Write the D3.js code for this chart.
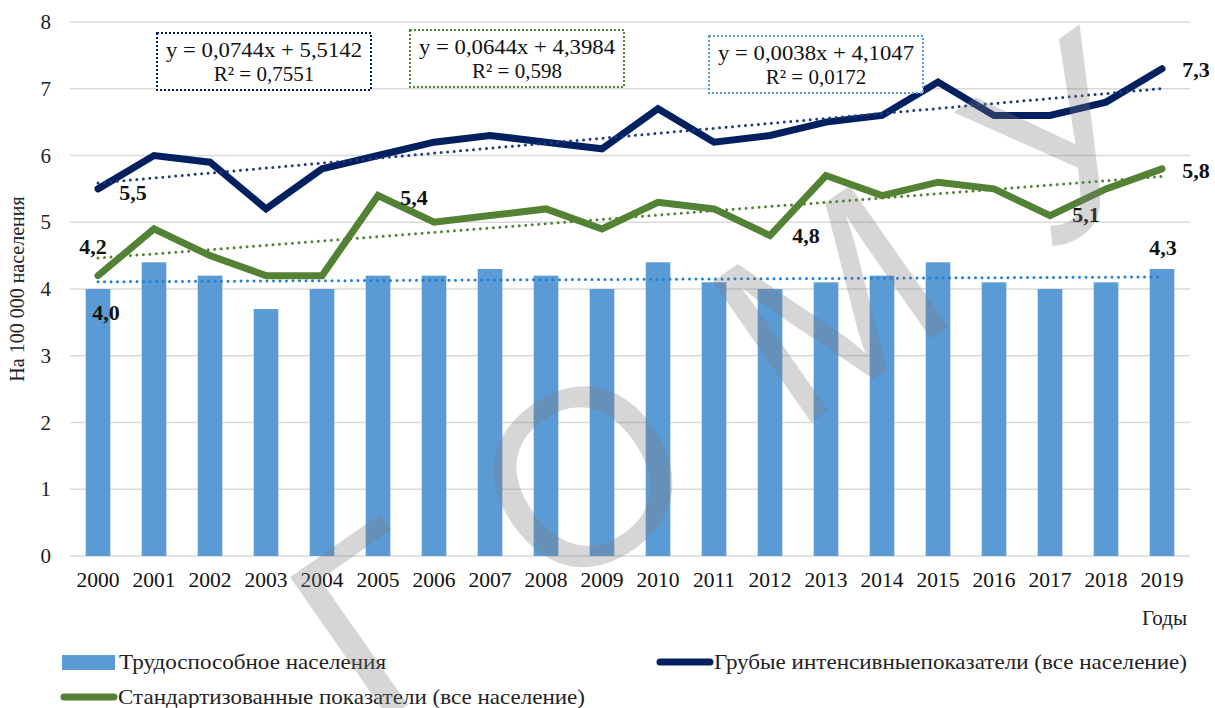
<!DOCTYPE html>
<html>
<head>
<meta charset="utf-8">
<script src="https://cdn.jsdelivr.net/npm/d3@7"></script>
<style>
  body { margin: 0; background: #fff; }
  text { font-family: "Liberation Serif", "Times New Roman", serif; }
</style>
</head>
<body>
<script>
// Data
let years = ["2000","2001","2002","2003","2004","2005","2006","2007","2008","2009",
             "2010","2011","2012","2013","2014","2015","2016","2017","2018","2019"];
let workingAge = [4.0,4.4,4.2,3.7,4.0,4.2,4.2,4.3,4.2,4.0,4.4,4.1,4.0,4.1,4.2,4.4,4.1,4.0,4.1,4.3];
let crudeRates = [5.5,6.0,5.9,5.2,5.8,6.0,6.2,6.3,6.2,6.1,6.7,6.2,6.3,6.5,6.6,7.1,6.6,6.6,6.8,7.3];
let standardized = [4.2,4.9,4.5,4.2,4.2,5.4,5.0,5.1,5.2,4.9,5.3,5.2,4.8,5.7,5.4,5.6,5.5,5.1,5.5,5.8];
let yTicks = [0,1,2,3,4,5,6,7,8];
let seriesNames = ["Трудоспособное населения",
                   "Грубые интенсивныепоказатели (все население)",
                   "Стандартизованные показатели (все население)"];
// trend lines: [slope, intercept, R2 text]
let trendCrude = [0.0744, 5.5142, "0,7551"];
let trendStd = [0.0644, 4.3984, "0,598"];
let trendWork = [0.0038, 4.1047, "0,0172"];
// labeled points (indexes into years)
let crudeLabels = [0, 19];
let stdLabels = [0, 5, 12, 17, 19];
let workLabels = [0, 19];

let svgWidth = 1215;
let svgHeight = 708;
let margin = { top: 22, right: 25, bottom: 152, left: 70 };
let width = svgWidth - margin.left - margin.right;
let height = svgHeight - margin.top - margin.bottom;

let navy = "#002060", green = "#548235", barBlue = "#5b9bd5";

let svg = d3.select("body").append("svg")
            .attr("width", svgWidth)
            .attr("height", svgHeight);

let chartGroup = svg.append("g")
                    .attr("transform", `translate(${margin.left}, ${margin.top})`);

let xBand = d3.scaleBand().domain(years).range([0, width]);
let xBar = d3.scaleBand().domain(years).range([0, width]).paddingInner(0.56).paddingOuter(0.28);
let xc = d => xBand(d) + xBand.bandwidth() / 2;
let y = d3.scaleLinear().domain([0, 8]).range([height, 0]);

// gridlines
chartGroup.selectAll(".grid").data(yTicks).enter().append("line")
          .attr("x1", 0).attr("x2", width)
          .attr("y1", d => y(d)).attr("y2", d => y(d))
          .attr("stroke", "#d9d9d9").attr("stroke-width", 1.5);

// y axis
let leftAxis = d3.axisLeft(y).tickValues(yTicks).tickSize(0).tickPadding(19);
let gy = chartGroup.append("g").call(leftAxis);
gy.select(".domain").remove();
gy.selectAll("text").attr("font-size", "21px").attr("fill", "#222")
  .style("font-family", "Liberation Serif, serif");

// x axis
let bottomAxis = d3.axisBottom(xBand).tickSize(0).tickPadding(16);
let gx = chartGroup.append("g").attr("transform", `translate(0, ${height})`).call(bottomAxis);
gx.select(".domain").remove();
gx.selectAll("text").attr("font-size", "21.5px").attr("fill", "#111")
  .style("font-family", "Liberation Serif, serif");

// axis titles
svg.append("text")
   .attr("transform", `translate(24, ${margin.top + y(4)}) rotate(-90)`)
   .attr("text-anchor", "middle")
   .attr("font-size", "20px").attr("fill", "#222")
   .text("На 100 000 населения");

svg.append("text")
   .attr("x", 1187).attr("y", 625)
   .attr("text-anchor", "end")
   .attr("font-size", "21px").attr("fill", "#222")
   .text("Годы");

// bars
chartGroup.selectAll(".bar").data(workingAge).enter().append("rect")
          .attr("x", (d, i) => xBar(years[i]))
          .attr("width", xBar.bandwidth())
          .attr("y", d => y(d))
          .attr("height", d => height - y(d))
          .attr("fill", barBlue);

// trend lines
function trendLine(t, color, w) {
    let pts = [0, years.length - 1].map(i => [xc(years[i]), y(t[0] * (i + 1) + t[1])]);
    chartGroup.append("path")
              .attr("d", d3.line()(pts))
              .attr("fill", "none")
              .attr("stroke", color)
              .attr("stroke-width", w)
              .attr("stroke-linecap", "round")
              .attr("stroke-dasharray", "0,6.5");
}

// lines
let line = d3.line().x((d, i) => xc(years[i])).y(d => y(d));
function drawLine(values, color) {
    chartGroup.append("path")
              .datum(values)
              .attr("d", line)
              .attr("fill", "none")
              .attr("stroke", color)
              .attr("stroke-width", 7)
              .attr("stroke-linejoin", "miter")
              .attr("stroke-linecap", "round");
}

trendLine(trendWork, "#1f7fd4", 3);
drawLine(standardized, green);
drawLine(crudeRates, navy);
trendLine(trendStd, "#548235", 3);
trendLine(trendCrude, "#1f3a78", 3);

// data labels
function labels(values, idx, offsets) {
    idx.forEach((i, k) => {
        chartGroup.append("text")
                  .attr("x", xc(years[i]) + offsets[k][0])
                  .attr("y", y(values[i]) + offsets[k][1])
                  .attr("text-anchor", "middle")
                  .attr("dominant-baseline", "central")
                  .attr("font-size", "22px")
                  .attr("font-weight", "bold")
                  .attr("fill", "#111")
                  .text(d3.format(".1f")(values[i]).replace(".", ","));
    });
}
labels(crudeRates, crudeLabels, [[35, 4], [34, 1]]);
labels(standardized, stdLabels, [[-5, -29], [36, 2], [36, 0], [36, -1], [34, 2]]);
labels(workingAge, workLabels, [[8, 23], [1, -21]]);

// equation boxes
function eqBox(t, x0, y0, color) {
    let g = svg.append("g").attr("transform", `translate(${x0}, ${y0})`);
    g.append("rect").attr("width", 214).attr("height", 57)
     .attr("fill", "#fff").attr("stroke", color)
     .attr("stroke-width", 2).attr("stroke-dasharray", "2,2");
    g.append("text").attr("x", 107).attr("y", 24).attr("text-anchor", "middle")
     .attr("font-size", "21px").attr("fill", "#111")
     .attr("textLength", 196).attr("lengthAdjust", "spacingAndGlyphs")
     .text(`y = ${String(t[0]).replace("0.", "0,")}x + ${String(t[1]).replace(".", ",")}`);
    g.append("text").attr("x", 107).attr("y", 48).attr("text-anchor", "middle")
     .attr("font-size", "21px").attr("fill", "#111")
     .text(`R² = ${t[2]}`);
}
eqBox(trendCrude, 157, 33, navy);
eqBox(trendStd, 410, 30, green);
eqBox(trendWork, 709, 36, barBlue);

// legend
let legend = svg.append("g").attr("font-size", "21px").attr("fill", "#222");
legend.append("rect").attr("x", 62).attr("y", 655).attr("width", 53).attr("height", 15).attr("fill", barBlue);
legend.append("text").attr("x", 119).attr("y", 669).attr("textLength", 267)
      .attr("lengthAdjust", "spacingAndGlyphs").text(seriesNames[0]);
legend.append("line").attr("x1", 660).attr("x2", 710).attr("y1", 662).attr("y2", 662)
      .attr("stroke", navy).attr("stroke-width", 7).attr("stroke-linecap", "round");
legend.append("text").attr("x", 714).attr("y", 669).attr("textLength", 473)
      .attr("lengthAdjust", "spacingAndGlyphs").text(seriesNames[1]);
legend.append("line").attr("x1", 64).attr("x2", 114).attr("y1", 697).attr("y2", 697)
      .attr("stroke", green).attr("stroke-width", 7).attr("stroke-linecap", "round");
legend.append("text").attr("x", 118).attr("y", 704).attr("textLength", 467)
      .attr("lengthAdjust", "spacingAndGlyphs").text(seriesNames[2]);

// watermark
svg.append("text")
   .attr("transform", "translate(372, 730) rotate(-35)")
   .attr("font-size", "250px")
   .attr("letter-spacing", "100px")
   .attr("fill", "#7a7a7a")
   .attr("opacity", 0.3)
   .style("font-family", "Liberation Sans, Arial, sans-serif")
   .text("ГОМУ");
</script>
</body>
</html>
